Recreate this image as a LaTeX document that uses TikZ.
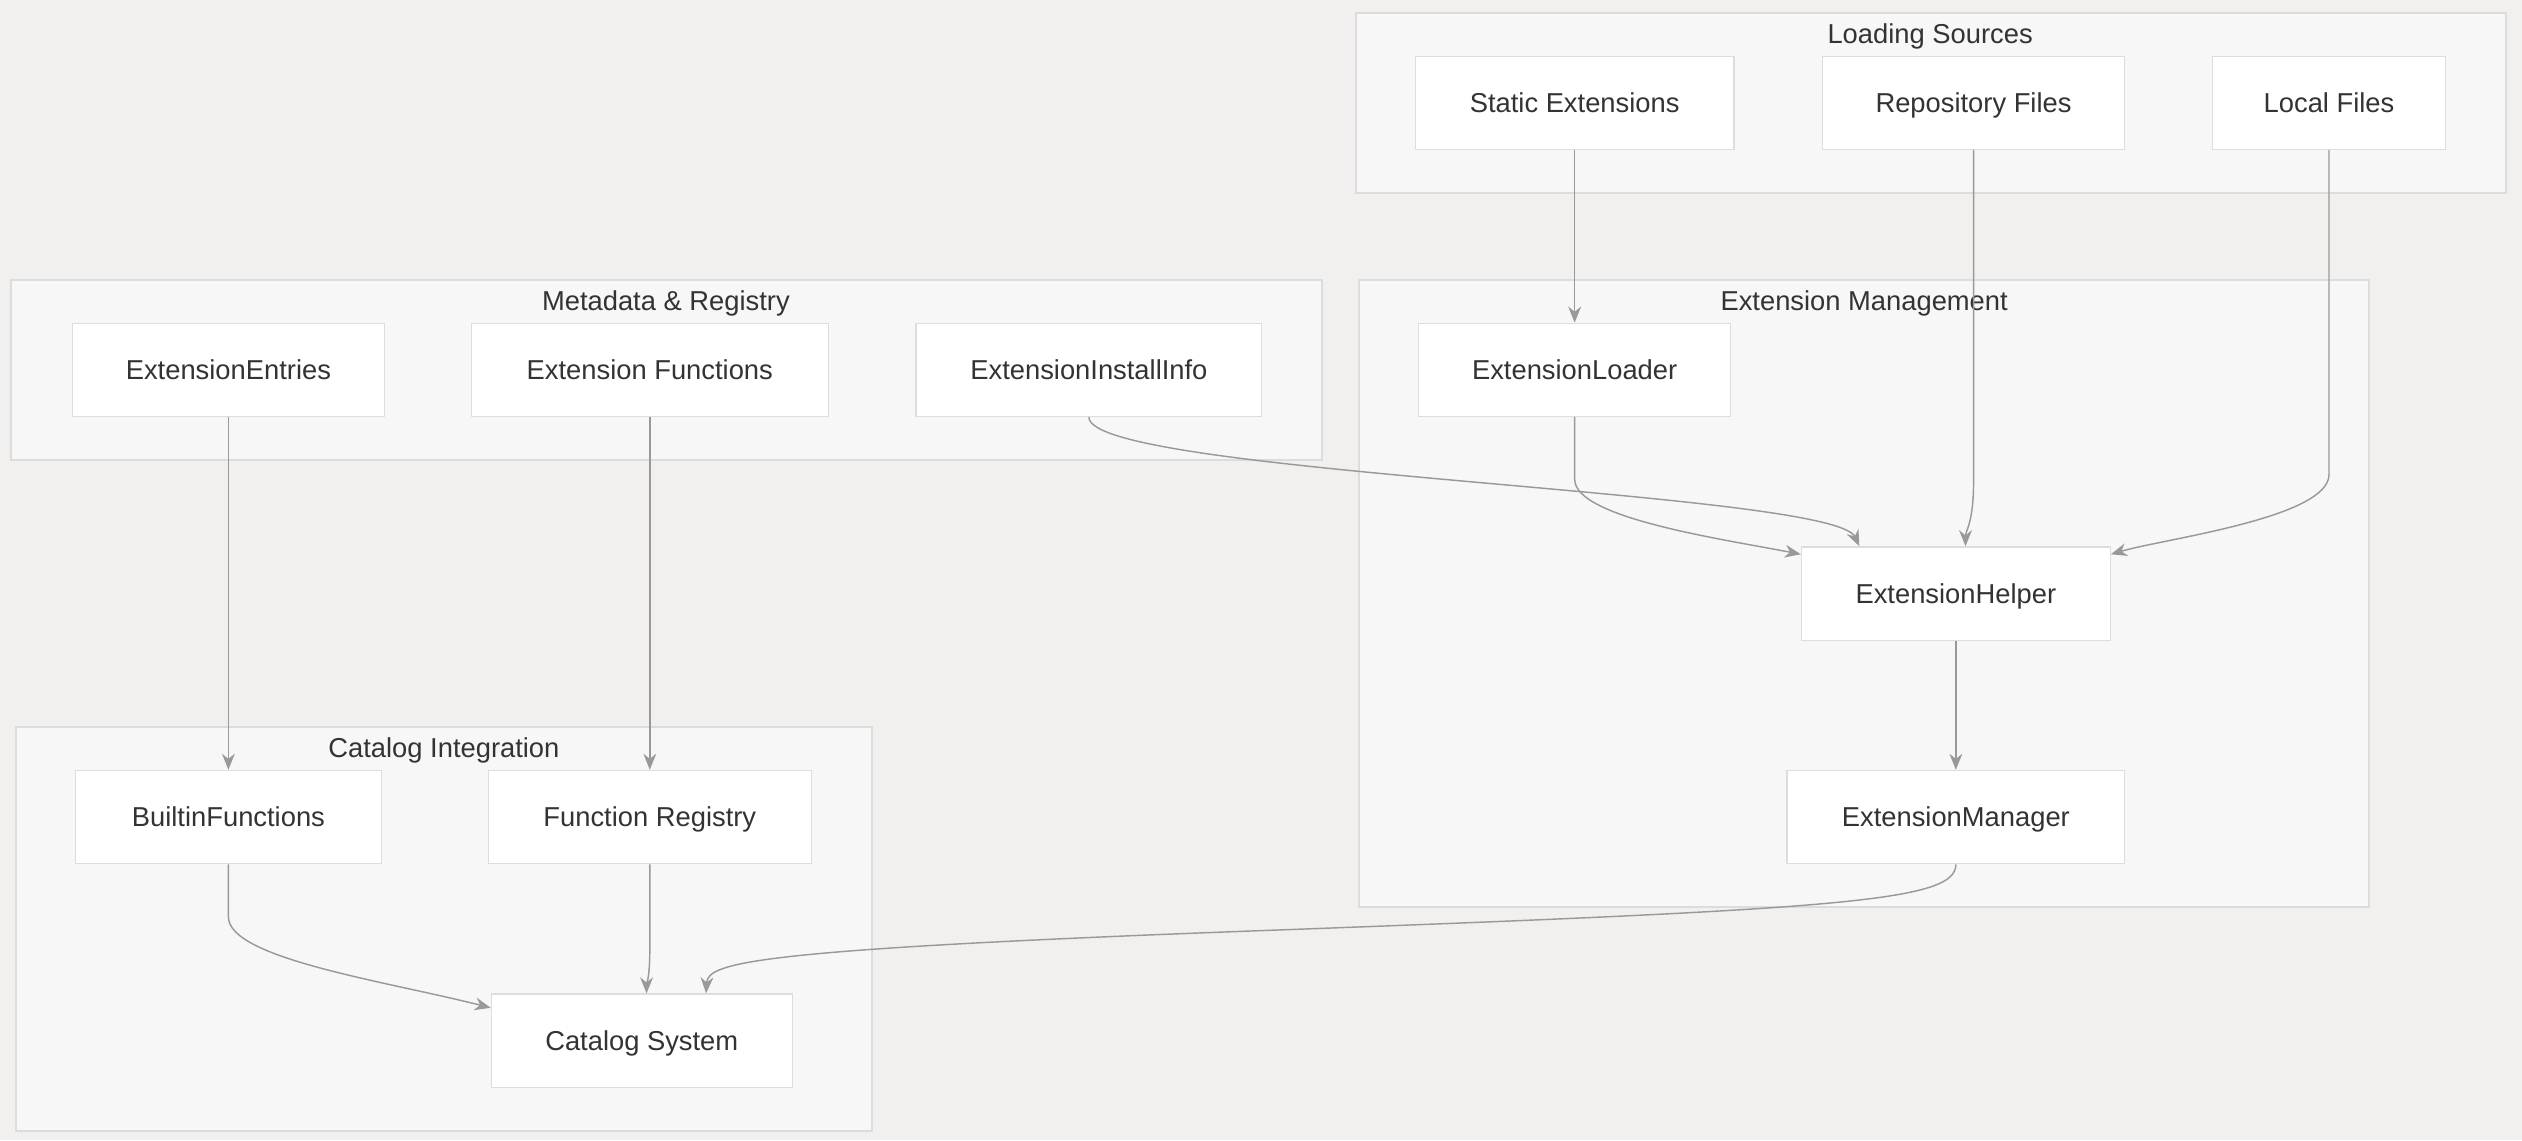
\documentclass[tikz,border=0pt]{standalone}
\usepackage{fontspec}
\setmainfont{Liberation Sans}
\usetikzlibrary{arrows.meta}
\definecolor{bgcol}{HTML}{F1F0EE}
\definecolor{clfill}{HTML}{F7F7F7}
\definecolor{cledge}{HTML}{DCDCDC}
\definecolor{boxedge}{HTML}{DDDDDD}
\definecolor{linecol}{HTML}{999999}
\definecolor{txtcol}{HTML}{333333}
\tikzset{
  box/.style={draw=boxedge, fill=white, line width=0.8pt, minimum height=58pt,
    inner sep=0pt, text height=14pt, text depth=2pt, text=txtcol,
    font=\fontsize{17}{20}\selectfont},
  cluster/.style={draw=cledge, fill=clfill, line width=1pt},
  cltitle/.style={text=txtcol, text height=14pt, text depth=2pt,
    font=\fontsize{17}{20}\selectfont},
  flow/.style={->, draw=linecol, line width=0.9pt}
}

\begin{document}
\begin{tikzpicture}[x=1pt, y=-1pt, >={Stealth[length=10pt,width=8pt]}]
        \fill[bgcol] (0,0) rectangle (1568,709);
        \useasboundingbox (0,0) rectangle (1568,709);
        % groups
        \draw[cluster] (843,8) rectangle (1558,120);
        \draw[cluster] (7,174) rectangle (822,286);
        \draw[cluster] (845,174) rectangle (1473,564);
        \draw[cluster] (10,452) rectangle (542,703);
        \node[cltitle] (tls) at (1200,21) {Loading Sources};
        \node[cltitle] (tmr) at (414,187) {Metadata \& Registry};
        \node[cltitle] (tem) at (1159,187) {Extension Management};
        \node[cltitle] (tci) at (276,465) {Catalog Integration};
        % loading sources
        \node[box, minimum width=198pt] (se) at (979,64) {Static Extensions};
        \node[box, minimum width=188pt] (rf) at (1227,64) {Repository Files};
        \node[box, minimum width=145pt] (lf) at (1448,64) {Local Files};
        % metadata
        \node[box, minimum width=194pt] (ee) at (142,230) {ExtensionEntries};
        \node[box, minimum width=222pt] (ef) at (404,230) {Extension Functions};
        \node[box, minimum width=215pt] (ii) at (677,230) {ExtensionInstallInfo};
        % management
        \node[box, minimum width=194pt] (el) at (979,230) {ExtensionLoader};
        \node[box, minimum width=192pt] (eh) at (1216,369) {ExtensionHelper};
        \node[box, minimum width=210pt] (em) at (1216,508) {ExtensionManager};
        % catalog
        \node[box, minimum width=190pt] (bf) at (142,508) {BuiltinFunctions};
        \node[box, minimum width=201pt] (fr) at (404,508) {Function Registry};
        \node[box, minimum width=187pt] (cs) at (399,647) {Catalog System};
        % edges
        \draw[flow] (se) -- (el);
        \draw[flow] (rf.south) -- (1227,300) .. controls (1227,325) and (1222,330) .. ([xshift=6pt]eh.north);
        \draw[flow] (lf.south) -- (1448,295) .. controls (1448,322) and (1345,335) .. ([yshift=-5pt]eh.north east);
        \draw[flow] (ii.south) .. controls (677,295) and (1140,305) .. ([xshift=-60pt]eh.north);
        \draw[flow] (el.south) -- (979,298) .. controls (979,322) and (1070,335) .. ([yshift=-5pt]eh.north west);
        \draw[flow] (eh) -- (em);
        \draw[flow] (ee) -- (bf);
        \draw[flow] (ef) -- (fr);
        \draw[flow] (bf.south) -- (142,570) .. controls (142,596) and (240,610) .. ([yshift=-9pt]cs.north west);
        \draw[flow] (fr.south) -- (404,590) .. controls (404,608) and (402,612) .. ([xshift=3pt]cs.north);
        \draw[flow] (em.south) .. controls (1216,560) and (1150,565) .. (800,578)
          .. controls (470,590) and (440,598) .. ([xshift=40pt]cs.north);
    \end{tikzpicture}
\end{document}
